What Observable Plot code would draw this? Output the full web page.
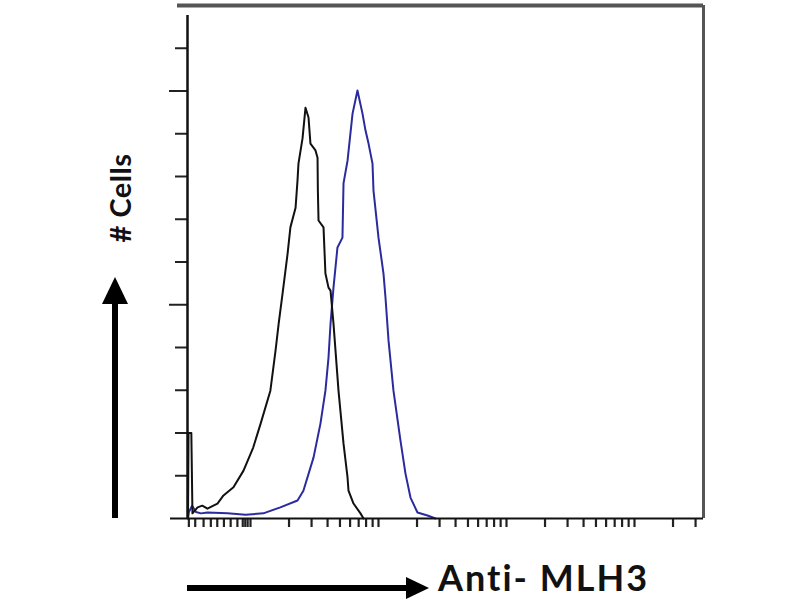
<!DOCTYPE html>
<html><head><meta charset="utf-8">
<script src="https://cdn.jsdelivr.net/npm/d3@7"></script>
<script src="https://cdn.jsdelivr.net/npm/@observablehq/plot@0.6"></script>
<style>
body{margin:0;background:#fff}
#wrap{position:relative;width:800px;height:600px;background:#fff}
#over{position:absolute;left:0;top:0}
</style>
</head><body><div id="wrap"></div>
<script>
// Fluorescence intensity (log scale) and cell counts
const blackX = [3.25,3.28,3.45,3.52,3.86,4.2,4.61,5.52,6.15,7.36,8.82,10.5,12.0,14.3,15.7,16.6,17.8,19.5,20.5,22.5,23.3,23.7,25.5,26.9,28.4,29.4,32.2,33.4,33.6,34.0,37.2,38.5,40.7,42.2,44.5,48.7,53.3,57.3,58.3,63.8,72.3,76.4];
const blackY = [0,20,20,1.2,2.6,3.0,2.3,3.5,5.4,7.3,11.2,16.6,22.2,29.9,39.3,45.6,52.6,62.0,68.1,72.7,79.1,83.0,88.9,96.1,93.8,87.7,86.1,84.4,76.7,69.7,68.1,57.3,54.0,53.3,45.6,29.9,17.5,9.6,6.5,3.5,1.2,0];
const blueX = [3.25,3.3,3.5,3.75,4.1,4.61,6.61,9.14,12.6,17.1,23.3,25.9,31.1,35.2,38.5,40.7,42.2,44.5,47.8,52.3,53.3,57.3,62.7,68.5,75.0,79.1,83.6,89.8,91.4,100,109.4,113.4,119.8,130.9,148.5,162.5,177.8,201.6,241.4,278.8];
const blueY = [0,1.5,3.0,1.5,1.2,1.4,1.2,0.9,1.2,2.6,4.2,6.5,14.3,22.2,29.9,37.7,45.6,54.0,63.4,65.7,78.4,83.7,94.7,100.1,94.7,90.8,87.7,83.0,76.7,65.7,57.3,51.7,41.6,29.9,18.2,10.5,4.9,1.4,0.7,0];

// axis ticks
const xDomain = [3.22, 34600];
const xLowTicks = [3.3,3.7,4.3,4.9,5.5,6.2,7.0,7.9,8.7,9.1,9.5];
const xDecadeTicks = [10,20,30,40,50,60,70,80,90,100,200,300,400,500,600,700,800,900,1000,2000,3000,4000,5000,6000,7000,8000,9000,10000,20000,30000];
const yMinorTicks = [10,20,30,40,60,70,80,90,110];
const yMajorTicks = [50,100];
const yDomain = [0,120];

const black = blackX.map((x,i)=>({x, y: blackY[i]}));
const blue = blueX.map((x,i)=>({x, y: blueY[i]}));

const plot = Plot.plot({
  width: 800, height: 600,
  marginLeft: 187, marginRight: 97, marginTop: 5, marginBottom: 82,
  x: {type: "log", domain: xDomain, axis: null},
  y: {domain: yDomain, axis: null},
  marks: [
    Plot.ruleY([yDomain[1]], {stroke: "#555", strokeWidth: 4, insetLeft: -10}),
    Plot.ruleX([xDomain[1]], {stroke: "#555", strokeWidth: 3}),
    Plot.line(blue, {x: "x", y: "y", stroke: "#2b2b9e", strokeWidth: 2}),
    Plot.line(black, {x: "x", y: "y", stroke: "#111", strokeWidth: 2}),
    Plot.ruleX(xLowTicks.concat(xDecadeTicks), {x: d => d, y1: 0, y2: 0, insetBottom: -9, stroke: "#222", strokeWidth: 2.2}),
    Plot.ruleY(yMinorTicks, {y: d => d, x1: xDomain[0], x2: xDomain[0], insetLeft: -12, stroke: "#222", strokeWidth: 2}),
    Plot.ruleY(yMajorTicks, {y: d => d, x1: xDomain[0], x2: xDomain[0], insetLeft: -18, stroke: "#222", strokeWidth: 2}),
    Plot.ruleX([xDomain[0]], {y1: 0, y2: yDomain[1], insetBottom: -10, stroke: "#111", strokeWidth: 2.5}),
    Plot.ruleY([0], {x1: xDomain[0], x2: xDomain[1], insetLeft: -17, stroke: "#111", strokeWidth: 2})
  ]
});
const wrap = document.getElementById("wrap");
wrap.appendChild(plot);

const ns = "http://www.w3.org/2000/svg";
const over = document.createElementNS(ns, "svg");
over.setAttribute("id", "over");
over.setAttribute("width", 800);
over.setAttribute("height", 600);
over.innerHTML = `
  <line x1="115" y1="518" x2="115" y2="300" stroke="#000" stroke-width="6"/>
  <polygon points="115,277 102,304 128,304" fill="#000"/>
  <text x="131" y="198" transform="rotate(-90 131 198)" text-anchor="middle"
        font-family="Lato, 'Liberation Sans', sans-serif" font-weight="700" font-size="29" letter-spacing="0.5" fill="#111"># Cells</text>
  <line x1="187" y1="588" x2="410" y2="588" stroke="#000" stroke-width="6"/>
  <polygon points="429,588 406,577 406,599" fill="#000"/>
  <text x="438" y="591" font-family="Lato, 'Liberation Sans', sans-serif" font-weight="700" font-size="36" letter-spacing="2" fill="#111">Anti- MLH3</text>
`;
wrap.appendChild(over);
</script>
</body></html>
